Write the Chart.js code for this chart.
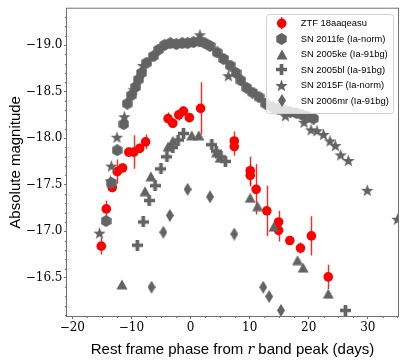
<!DOCTYPE html>
<html>
<head>
<meta charset="utf-8">
<script src="https://cdn.jsdelivr.net/npm/chart.js@4.4.1/dist/chart.umd.min.js"></script>
<style>
  html, body { margin: 0; padding: 0; background: #fff; }
  #wrap { width: 407px; height: 362px; }
</style>
</head>
<body>
<div id="wrap"><canvas id="myChart" width="407" height="362"></canvas></div>
<script>
// ZTF 18aaqeasu (with error bars)
const ztfPhase = [-15.1, -14.25, -13.25, -12.4, -11.5, -10.45, -9.6, -8.6, -7.6, -3.8, -3.0, -2.0, -1.2, -0.2, 1.7, 7.4, 7.4, 10.1, 10.1, 11.1, 12.9, 14.9, 14.9, 16.8, 18.6, 20.45, 23.3];
const ztfMag   = [-16.84, -17.24, -17.47, -17.64, -17.68, -17.85, -17.85, -17.89, -17.96, -18.21, -18.16, -18.25, -18.29, -18.22, -18.32, -17.97, -17.91, -17.65, -17.60, -17.45, -17.22, -17.10, -17.01, -16.90, -16.82, -16.95, -16.51];
const ztfErr   = [0.09, 0.09, 0.05, 0.13, 0.05, 0.05, 0.18, 0.05, 0.08, 0.065, 0.05, 0.06, 0.05, 0.05, 0.28, 0.1, 0.1, 0.15, 0.12, 0.27, 0.27, 0.12, 0.12, 0.03, 0.06, 0.21, 0.13];

// SN 2011fe
const fe11Phase = [-14.3, -13.4, -12.4, -11.3, -10.7, -10.0, -9.3, -8.8, -8.3, -7.4, -6.3, -5.4, -4.4, -3.4, -2.4, -1.4, -0.5, 0.5, 1.5, 2.4, 3.3, 4.5, 5.6, 6.7, 7.7, 8.5, 9.5, 10.5, 11.6, 12.7, 13.9, 14.9, 15.9, 16.9, 17.9, 18.9, 19.9, 20.8];
const fe11Mag   = [-17.11, -17.52, -17.87, -18.15, -18.37, -18.46, -18.55, -18.63, -18.70, -18.81, -18.88, -18.95, -19.00, -19.02, -19.01, -19.02, -19.02, -19.03, -19.04, -19.02, -18.99, -18.92, -18.85, -18.78, -18.70, -18.62, -18.54, -18.49, -18.44, -18.37, -18.33, -18.31, -18.30, -18.28, -18.27, -18.25, -18.23, -18.21];

// SN 2005ke
const ke05Phase = [-11.6, -7.7, -6.7, -3.8, -3.0, 0.2, 1.4, 4.4, 5.0, 10.1, 11.35, 14.1, 18.1, 19.05, 23.3];
const ke05Mag   = [-16.43, -17.43, -17.59, -17.91, -17.97, -18.03, -18.03, -17.85, -17.79, -17.36, -17.27, -17.05, -16.69, -16.61, -16.33];

// SN 2005bl
const bl05Phase = [-9.0, -8.0, -7.0, -6.0, -5.0, -4.0, -3.0, -2.1, -1.2, 3.6, 4.35, 5.15, 5.9, 26.2];
const bl05Mag   = [-16.85, -17.10, -17.33, -17.49, -17.67, -17.80, -17.90, -17.98, -18.05, -17.93, -17.86, -17.80, -17.75, -16.15];

// SN 2015F
const f15Phase = [-15.4, -13.55, -13.4, -12.45, -11.2, -9.6, -8.0, 1.6, 6.4, 16.05, 19.2, 20.4, 21.4, 22.5, 23.6, 24.5, 25.4, 26.7, 29.9, 35.0];
const f15Mag   = [-16.98, -17.54, -17.70, -18.01, -18.23, -18.52, -18.78, -19.11, -18.67, -18.24, -18.17, -18.09, -18.08, -18.04, -17.97, -17.92, -17.82, -17.76, -17.44, -17.13];

// SN 2006mr
const mr06Phase = [-6.6, -4.6, -3.5, -0.5, 3.3, 7.4, 12.3, 13.3, 15.3];
const mr06Mag   = [-16.40, -16.99, -17.17, -17.45, -17.37, -16.97, -16.40, -16.30, -16.15];

const labels = ['ZTF 18aaqeasu', 'SN 2011fe (Ia-norm)', 'SN 2005ke (Ia-91bg)', 'SN 2005bl (Ia-91bg)', 'SN 2015F (Ia-norm)', 'SN 2006mr (Ia-91bg)'];
const xTicks = [-20, -10, 0, 10, 20, 30];
const yTicks = [-19.0, -18.5, -18.0, -17.5, -17.0, -16.5];

const GREY = '#636363';
const RED = '#ff0000';

const toPts = (xs, ys) => xs.map((x, i) => ({ x: x, y: ys[i] }));

// marker images
const makeMarker = (shape, w, h) => {
  const c = document.createElement('canvas');
  c.width = w; c.height = h;
  const g = c.getContext('2d');
  const cx = w / 2, cy = h / 2;
  g.fillStyle = GREY;
  g.beginPath();
  if (shape === 'hex') {
    const r = h / 2;
    for (let k = 0; k < 6; k++) {
      const a = -Math.PI / 2 + k * Math.PI / 3;
      g.lineTo(cx + r * Math.cos(a), cy + r * Math.sin(a));
    }
  } else if (shape === 'star') {
    const R = h / 2, r = R * 0.42;
    for (let k = 0; k < 10; k++) {
      const a = -Math.PI / 2 + k * Math.PI / 5;
      const rr = k % 2 === 0 ? R : r;
      g.lineTo(cx + rr * Math.cos(a), cy + rr * Math.sin(a) + 0.6);
    }
  } else if (shape === 'tri') {
    g.moveTo(cx, 0.5);
    g.lineTo(w - 0.5, h - 0.5);
    g.lineTo(0.5, h - 0.5);
  } else if (shape === 'plus') {
    const a = w / 3;
    g.rect(a, 0, a, h);
    g.rect(0, a, w, a);
  } else if (shape === 'diamond') {
    g.moveTo(cx, 0);
    g.lineTo(w, cy);
    g.lineTo(cx, h);
    g.lineTo(0, cy);
  }
  g.closePath();
  g.fill();
  return c;
};

const hexImg = makeMarker('hex', 11, 12);
const starImg = makeMarker('star', 13, 13);
const triImg = makeMarker('tri', 12, 11);
const plusImg = makeMarker('plus', 11, 11);
const diaImg = makeMarker('diamond', 8, 13);

// error bars, minor ticks, frame, titles, legend
const extras = {
  id: 'extras',
  beforeDatasetsDraw(chart) {
    const ctx = chart.ctx, xs = chart.scales.x, ys = chart.scales.y, a = chart.chartArea;
    ctx.save();
    ctx.beginPath();
    ctx.rect(a.left, a.top, a.right - a.left, a.bottom - a.top);
    ctx.clip();
    ctx.strokeStyle = 'rgba(255,0,0,0.85)';
    ctx.lineWidth = 1.4;
    ztfPhase.forEach((p, i) => {
      const px = Math.round(xs.getPixelForValue(p)) + 0.5;
      ctx.beginPath();
      ctx.moveTo(px, ys.getPixelForValue(ztfMag[i] - ztfErr[i]));
      ctx.lineTo(px, ys.getPixelForValue(ztfMag[i] + ztfErr[i]));
      ctx.stroke();
    });
    ctx.restore();
  },
  afterDraw(chart) {
    const ctx = chart.ctx, xs = chart.scales.x, ys = chart.scales.y, a = chart.chartArea;
    ctx.save();
    // frame
    ctx.strokeStyle = '#707070';
    ctx.lineWidth = 1;
    ctx.strokeRect(a.left - 0.5, a.top - 0.5, a.right - a.left + 1, a.bottom - a.top + 1);
    // minor ticks
    ctx.beginPath();
    for (let i = -8; i <= 14; i++) {
      if (i % 4 === 0) continue;
      const px = Math.round(xs.getPixelForValue(i * 2.5)) + 0.5;
      if (px < a.left || px > a.right) continue;
      ctx.moveTo(px, a.bottom);
      ctx.lineTo(px, a.bottom + 2);
    }
    for (let i = -193; i <= -161; i++) {
      if (i % 5 === 0) continue;
      const py = Math.round(ys.getPixelForValue(i / 10)) + 0.5;
      ctx.moveTo(a.left, py);
      ctx.lineTo(a.left - 2, py);
    }
    ctx.stroke();

    // axis titles
    ctx.fillStyle = '#000';
    ctx.textBaseline = 'middle';
    ctx.font = '15px "Liberation Sans"';
    ctx.save();
    ctx.translate(16, (a.top + a.bottom) / 2);
    ctx.rotate(-Math.PI / 2);
    ctx.textAlign = 'center';
    ctx.fillText('Absolute magnitude', 0, 0);
    ctx.restore();

    const p1 = 'Rest frame phase from ', p2 = 'r', p3 = ' band peak (days)';
    const sans = '15px "Liberation Sans"', ital = 'italic 14px "DejaVu Serif"';
    ctx.font = sans;
    const w1 = ctx.measureText(p1).width, w3 = ctx.measureText(p3).width;
    ctx.font = ital;
    const w2 = ctx.measureText(p2).width;
    let tx = (a.left + a.right) / 2 - (w1 + w2 + w3) / 2;
    ctx.textAlign = 'left';
    ctx.font = sans; ctx.fillText(p1, tx, 350); tx += w1;
    ctx.font = ital; ctx.fillText(p2, tx, 350); tx += w2;
    ctx.font = sans; ctx.fillText(p3, tx, 350);

    // legend
    const lx = 266, ly = 14, lw = 127, lh = 99;
    ctx.beginPath();
    ctx.roundRect(lx + 0.5, ly + 0.5, lw, lh, 3);
    ctx.fillStyle = 'rgba(255,255,255,0.8)';
    ctx.fill();
    ctx.strokeStyle = '#d0d0d0';
    ctx.stroke();
    const imgs = [null, hexImg, triImg, plusImg, starImg, diaImg];
    ctx.font = '9.4px "Liberation Sans"';
    labels.forEach((t, i) => {
      const cy = 23.3 + i * 15.5, cx = 281.7;
      if (i === 0) {
        ctx.strokeStyle = RED; ctx.lineWidth = 1.4;
        ctx.beginPath(); ctx.moveTo(cx, cy - 6); ctx.lineTo(cx, cy + 6); ctx.stroke();
        ctx.fillStyle = RED;
        ctx.beginPath(); ctx.arc(cx, cy, 4.8, 0, Math.PI * 2); ctx.fill();
      } else {
        const im = imgs[i];
        ctx.drawImage(im, Math.round(cx - im.width / 2), Math.round(cy - im.height / 2));
      }
      ctx.fillStyle = '#000';
      ctx.fillText(t, 300.7, cy + 0.5);
    });
    ctx.restore();
  }
};

const ds = (label, xs, ys, style, order, extra) => Object.assign({
  label: label,
  data: toPts(xs, ys),
  pointStyle: style,
  backgroundColor: GREY,
  borderColor: GREY,
  borderWidth: 0,
  pointRadius: 5,
  pointHoverRadius: 5,
  order: order,
  clip: 0
}, extra || {});

const ctx = document.getElementById('myChart');
const myChart = new Chart(ctx, {
  type: 'scatter',
  data: {
    datasets: [
      ds(labels[0], ztfPhase, ztfMag, 'circle', 6, { backgroundColor: RED, borderColor: RED, pointRadius: 4.8 }),
      ds(labels[1], fe11Phase, fe11Mag, hexImg, 5),
      ds(labels[2], ke05Phase, ke05Mag, triImg, 4),
      ds(labels[3], bl05Phase, bl05Mag, plusImg, 3),
      ds(labels[4], f15Phase, f15Mag, starImg, 2),
      ds(labels[5], mr06Phase, mr06Mag, diaImg, 1)
    ]
  },
  options: {
    responsive: false,
    animation: false,
    events: [],
    layout: { padding: { left: 0, right: 9, top: 8, bottom: 0 } },
    plugins: { legend: { display: false }, tooltip: { enabled: false } },
    scales: {
      x: {
        type: 'linear',
        min: -20.9,
        max: 35.1,
        afterFit: s => { s.height = 46; },
        afterBuildTicks: s => { s.ticks = xTicks.map(v => ({ value: v })); },
        grid: { drawOnChartArea: false, tickLength: 3, tickColor: '#707070' },
        border: { display: false },
        ticks: {
          color: '#000',
          padding: 2,
          maxRotation: 0,
          font: { family: 'DejaVu Serif', size: 12 },
          callback: v => (v < 0 ? '\u2212' : '') + Math.abs(v)
        }
      },
      y: {
        type: 'linear',
        reverse: true,
        min: -19.39,
        max: -16.09,
        afterFit: s => { s.width = 67; },
        afterBuildTicks: s => { s.ticks = yTicks.map(v => ({ value: v })); },
        grid: { drawOnChartArea: false, tickLength: 3, tickColor: '#707070' },
        border: { display: false },
        ticks: {
          color: '#000',
          padding: 1.5,
          font: { family: 'DejaVu Serif', size: 12 },
          callback: v => (v < 0 ? '\u2212' : '') + Math.abs(v).toFixed(1)
        }
      }
    }
  },
  plugins: [extras]
});
</script>
</body>
</html>
